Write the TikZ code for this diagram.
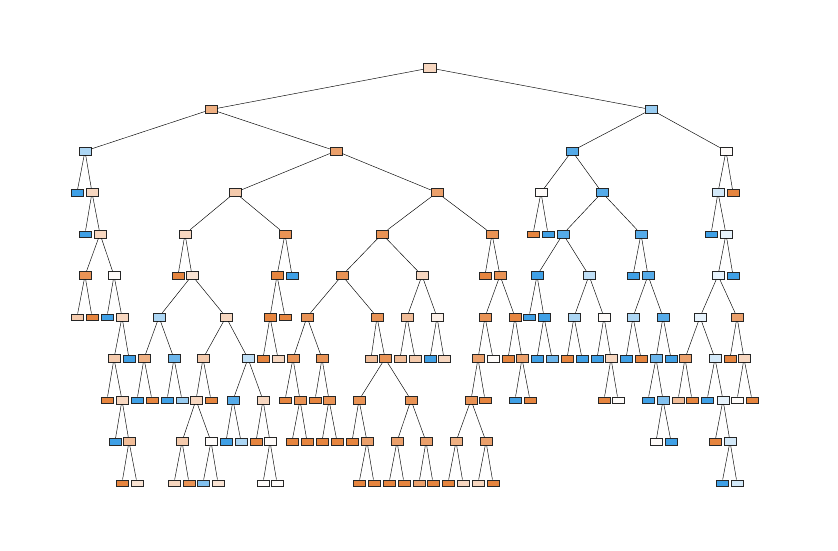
\documentclass[tikz,border=0pt]{standalone}
\definecolor{skO}{RGB}{229,129,57}
\definecolor{skB}{RGB}{57,157,229}
\colorlet{O9}{skO!97}\colorlet{O8}{skO!86}\colorlet{O7}{skO!75}\colorlet{O6}{skO!63}
\colorlet{O5}{skO!52}\colorlet{O4}{skO!42}\colorlet{O3}{skO!32}\colorlet{O2}{skO!22}\colorlet{O1}{skO!12}
\colorlet{W}{skO!3}
\colorlet{B9}{skB!97}\colorlet{B8}{skB!86}\colorlet{B7}{skB!75}\colorlet{B6}{skB!63}
\colorlet{B5}{skB!52}\colorlet{B4}{skB!42}\colorlet{B3}{skB!32}\colorlet{B2}{skB!22}\colorlet{B1}{skB!12}
\tikzset{
  nbase/.style={rectangle,draw=black!85,line width=0.5pt,inner sep=0pt,minimum width=12pt},
  ni/.style={nbase,minimum height=8pt},
  nf/.style={nbase,minimum height=6.5pt},
  nroot/.style={nbase,minimum width=13pt,minimum height=9pt},
  edge/.style={draw=black,line width=0.45pt}
}
\begin{document}
\begin{tikzpicture}[x=1pt,y=-1pt]
\useasboundingbox[fill=white] (0,0) rectangle (838,551);
% level 0
\node[nroot,fill=O3] (n0-430) at (430,68) {};
% level 1
\foreach \t/\x/\cl in {i/211/O6, i/651/B5}
  \node[n\t,fill=\cl] (n1-\x) at (\x,109.5) {};
% level 2
\foreach \t/\x/\cl in {i/85/B4, i/336/O7, i/572/B8, i/726/W}
  \node[n\t,fill=\cl] (n2-\x) at (\x,151) {};
% level 3
\foreach \t/\x/\cl in {f/77/B9, i/92/O3, i/235/O4, i/437/O7, i/541/W, i/602/B8, i/718/B2, f/733/O9}
  \node[n\t,fill=\cl] (n3-\x) at (\x,192.5) {};
% level 4
\foreach \t/\x/\cl in {f/85/B9, i/100/O3, i/185/O3, i/285/O8, i/382/O8, i/492/O8, f/533/O9, f/548/B9, i/563/B8, i/641/B8, f/711/B9, i/726/B1}
  \node[n\t,fill=\cl] (n4-\x) at (\x,234) {};
% level 5
\foreach \t/\x/\cl in {i/85/O8, i/114/W, f/178/O9, i/192/O2, i/277/O9, f/292/B9, i/342/O8, i/422/O3, f/485/O9, i/500/O8, i/537/B9, i/589/B3, f/633/B9, i/648/B8, i/718/B1, f/733/B9}
  \node[n\t,fill=\cl] (n5-\x) at (\x,275.5) {};
% level 6
\foreach \t/\x/\cl in {f/77/O4, f/92/O9, f/107/B9, i/122/O3, i/159/B4, i/226/O3, i/270/O9, f/285/O9, i/307/O8, i/377/O8, i/407/O5, i/437/O1, i/485/O8, i/515/O9, f/529/B9, i/544/B9, i/574/B4, i/604/W, i/633/B4, i/663/B8, i/700/B1, i/737/O7}
  \node[n\t,fill=\cl] (n6-\x) at (\x,317) {};
% level 7
\foreach \t/\x/\cl in {i/114/O4, f/129/B9, i/144/O6, i/174/B7, i/203/O4, i/248/B3, f/263/O9, f/278/O3, i/293/O8, i/322/O8, f/371/O5, i/385/O8, f/400/O5, f/415/O4, f/430/B9, f/444/O3, i/478/O7, f/493/W, f/508/O9, i/522/O7, f/537/B9, f/552/B7, f/567/O9, f/582/B9, f/597/B9, i/611/O3, f/626/B9, f/641/O9, i/656/B7, f/671/B9, i/685/O7, i/715/B2, f/730/O9, i/744/O3}
  \node[n\t,fill=\cl] (n7-\x) at (\x,358.5) {};
% level 8
\foreach \t/\x/\cl in {f/107/O9, i/122/O3, f/137/B9, f/152/O9, f/167/B9, f/182/B5, i/196/O3, f/211/O9, i/233/B8, i/263/O3, f/285/O9, i/300/O8, f/315/O9, i/329/O8, i/359/O8, i/411/O8, i/471/O8, f/485/O9, f/515/B9, f/530/O9, f/604/O9, f/618/W, f/648/B9, i/663/B6, f/678/O5, f/692/O9, f/707/B9, i/723/B1, f/737/W, f/752/O9}
  \node[n\t,fill=\cl] (n8-\x) at (\x,400) {};
% level 9
\foreach \t/\x/\cl in {f/115/B9, i/129/O5, i/182/O4, i/211/W, f/226/B9, f/241/B4, f/256/O9, i/270/W, f/292/O9, f/307/O9, f/322/O9, f/337/O9, f/352/O9, i/367/O7, i/397/O7, i/426/O7, i/456/O6, i/486/O7, f/656/W, f/671/B9, f/715/O9, i/730/B2}
  \node[n\t,fill=\cl] (n9-\x) at (\x,441.5) {};
% level 10
\foreach \t/\x/\cl in {f/122/O9, f/137/O2, f/174/O3, f/189/O8, f/203/B6, f/218/O2, f/263/W, f/277/W, f/359/O9, f/374/O9, f/389/O9, f/404/O9, f/419/O7, f/433/O9, f/448/O9, f/463/O3, f/478/O3, f/493/O9, f/722/B9, f/737/B2}
  \node[n\t,fill=\cl] (n10-\x) at (\x,483) {};
% edges
\foreach \l/\p/\a/\b in {
 0/430/211/651,
 1/211/85/336, 1/651/572/726,
 2/85/77/92, 2/336/235/437, 2/572/541/602, 2/726/718/733,
 3/92/85/100, 3/235/185/285, 3/437/382/492, 3/541/533/548, 3/602/563/641, 3/718/711/726,
 4/100/85/114, 4/185/178/192, 4/285/277/292, 4/382/342/422, 4/492/485/500, 4/563/537/589, 4/641/633/648, 4/726/718/733,
 5/85/77/92, 5/114/107/122, 5/192/159/226, 5/277/270/285, 5/342/307/377, 5/422/407/437, 5/500/485/515, 5/537/529/544, 5/589/574/604, 5/648/633/663, 5/718/700/737,
 6/122/114/129, 6/159/144/174, 6/226/203/248, 6/270/263/278, 6/307/293/322, 6/377/371/385, 6/407/400/415, 6/437/430/444, 6/485/478/493, 6/515/508/522, 6/544/537/552, 6/574/567/582, 6/604/597/611, 6/633/626/641, 6/663/656/671, 6/700/685/715, 6/737/730/744,
 7/114/107/122, 7/144/137/152, 7/174/167/182, 7/203/196/211, 7/248/233/263, 7/293/285/300, 7/322/315/329, 7/385/359/411, 7/478/471/485, 7/522/515/530, 7/611/604/618, 7/656/648/663, 7/685/678/692, 7/715/707/723, 7/744/737/752,
 8/122/115/129, 8/196/182/211, 8/233/226/241, 8/263/256/270, 8/300/292/307, 8/329/322/337, 8/359/352/367, 8/411/397/426, 8/471/456/486, 8/663/656/671, 8/723/715/730,
 9/129/122/137, 9/182/174/189, 9/211/203/218, 9/270/263/277, 9/367/359/374, 9/397/389/404, 9/426/419/433, 9/456/448/463, 9/486/478/493, 9/730/722/737}
{
  \pgfmathtruncatemacro\m{\l+1}
  \draw[edge] (n\l-\p) -- (n\m-\a);
  \draw[edge] (n\l-\p) -- (n\m-\b);
}
\end{tikzpicture}
\end{document}
